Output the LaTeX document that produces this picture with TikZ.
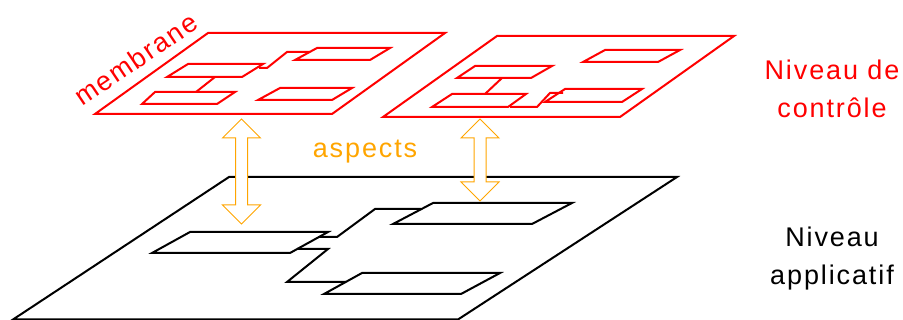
\documentclass[tikz,border=0pt]{standalone}
\usepackage{fontspec}
\setmainfont{Liberation Sans}[LetterSpace=7]
\definecolor{aspectorange}{RGB}{255,165,0}
\definecolor{ctrlred}{RGB}{255,0,0}
\tikzset{
  redline/.style={draw=ctrlred, line width=2pt, line join=miter},
  blackline/.style={draw=black, line width=2pt, line join=miter},
  aspectarrow/.style={draw=aspectorange, fill=white, line width=1pt, line join=miter},
  bigtext/.style={font=\fontsize{27}{38}\selectfont, inner sep=0pt, align=center},
}
\begin{document}
\begin{tikzpicture}[x=1pt,y=-1pt]
\useasboundingbox (0,0) rectangle (903,320);

% ---------------- application level (black) ----------------
\draw[blackline] (229,177) -- (677,177) -- (458,319.5) -- (13,319.5) -- cycle;
% rectangles
\draw[blackline] (190,232) -- (328,232) -- (290,253) -- (152,253) -- cycle;
\draw[blackline] (433,203) -- (572,203) -- (532,224) -- (393,224) -- cycle;
\draw[blackline] (362,273) -- (500,273) -- (461,294) -- (324,294) -- cycle;
% connectors
\draw[blackline] (319,237) -- (337,237) -- (375,209) -- (421,209);
\draw[blackline] (297,249) -- (328,249) -- (287,282) -- (346,282);

% ---------------- control level (red) ----------------
% plane 1
\draw[redline] (208,33) -- (445,33) -- (332,114) -- (95,114) -- cycle;
\draw[redline] (188,64) -- (263,64) -- (242,77) -- (167,77) -- cycle;
\draw[redline] (155,92) -- (235,92) -- (217,104) -- (142,104) -- cycle;
\draw[redline] (317,48) -- (390,48) -- (370,60) -- (295,60) -- cycle;
\draw[redline] (280,88) -- (352,88) -- (332,100) -- (258,100) -- cycle;
\draw[redline] (215,77) -- (196,92);
\draw[redline] (259,68) -- (267,68) -- (287,52) -- (310,52);
% plane 2
\draw[redline] (497,36) -- (734,36) -- (620,117) -- (383,117) -- cycle;
\draw[redline] (475,66) -- (552,66) -- (531,78) -- (457,78) -- cycle;
\draw[redline] (452,94) -- (526,94) -- (508,107) -- (432,107) -- cycle;
\draw[redline] (605,50) -- (680,50) -- (658,62) -- (583,62) -- cycle;
\draw[redline] (565,89) -- (642,89) -- (622,102) -- (545,102) -- cycle;
\draw[redline] (502,78) -- (485,94);
\draw[redline] (510,107) -- (537,107) -- (550,93) -- (563,93);

% ---------------- aspects arrows ----------------
\draw[aspectarrow] (241.5,119) -- (260.5,138) -- (247.5,138) -- (247.5,205) -- (260.5,205)
  -- (241.5,224) -- (222.5,205) -- (235.5,205) -- (235.5,138) -- (222.5,138) -- cycle;
\draw[aspectarrow] (480,119) -- (499,138) -- (486,138) -- (486,182) -- (499,182)
  -- (480,201) -- (461,182) -- (474,182) -- (474,138) -- (461,138) -- cycle;

% ---------------- labels ----------------
\node[bigtext, text=ctrlred, anchor=base, rotate=34] (membrane) at (141,67) {membrane};
\node[bigtext, text=aspectorange, anchor=base] (aspects) at (365,158) {aspects};
\node[bigtext, text=ctrlred, anchor=base] (ctrl) at (832,118) {Niveau de\\contrôle};
\node[bigtext, text=black, anchor=base] (appl) at (832,285) {Niveau\\applicatif};
\end{tikzpicture}
\end{document}
